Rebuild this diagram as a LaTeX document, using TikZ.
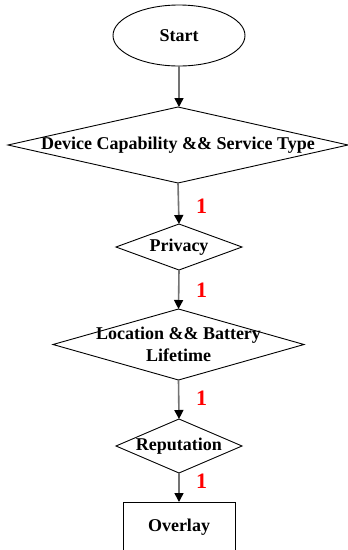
\documentclass[tikz,border=0pt]{standalone}
\usepackage{fontspec}
\setmainfont{Liberation Serif}
\usetikzlibrary{shapes.geometric,arrows.meta}
\tikzset{
  shapeline/.style={draw=black, line width=0.9pt, inner sep=0pt, outer sep=0pt},
  dia/.style={shapeline, diamond},
  txt/.style={font=\fontsize{18}{22}\selectfont\bfseries, align=center, inner sep=0pt},
  onelabel/.style={font=\fontsize{22}{22}\selectfont\bfseries, text=red, inner sep=0pt},
  flow/.style={draw=black!55, line width=1.6pt, -{Triangle[length=9pt,width=9pt,color=black]}}
}
\begin{document}
\begin{tikzpicture}[x=1pt,y=-1pt]
\useasboundingbox (0,0) rectangle (348,550);
\clip (0,0) rectangle (348,550);
\fill[white] (0,0) rectangle (348,550);
\node[shapeline, ellipse, minimum width=132pt, minimum height=61pt] (start) at (179,35.5) {};
\node[txt] (tstart) at (start) {Start};
\node[dia, minimum width=340pt, minimum height=76pt] (d1) at (178,145) {};
\node[txt] (td1) at (d1) {Device Capability \&\& Service Type};
\node[dia, minimum width=126pt, minimum height=46pt] (d2) at (179,247) {};
\node[txt] (td2) at (d2) {Privacy};
\node[dia, minimum width=251pt, minimum height=71pt] (d3) at (178.5,344.5) {};
\node[txt] (td3) at (d3) {Location \&\& Battery\\Lifetime};
\node[dia, minimum width=126pt, minimum height=54pt] (d4) at (179,446) {};
\node[txt] (td4) at (d4) {Reputation};
\node[shapeline, rectangle, minimum width=112pt, minimum height=50pt] (ov) at (179,527) {};
\node[txt] (tov) at (ov) {Overlay};
\draw[flow] (start.south) -- (start.south |- d1.north);
\draw[flow] (d1.south) -- (d2.north);
\draw[flow] (d2.south) -- (d3.north);
\draw[flow] (d3.south) -- (d4.north);
\draw[flow] (d4.south) -- (ov.north);
\node[onelabel] (l1) at (201.5,206) {1};
\node[onelabel] (l2) at (201.5,290) {1};
\node[onelabel] (l3) at (201.5,398) {1};
\node[onelabel] (l4) at (201.5,481) {1};
\end{tikzpicture}
\end{document}
